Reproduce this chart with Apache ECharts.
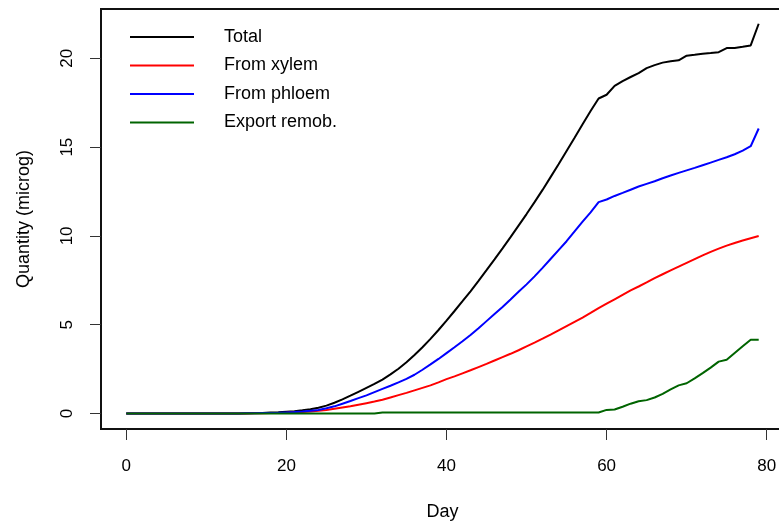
<!DOCTYPE html>
<html>
<head>
<meta charset="utf-8">
<script src="https://cdn.jsdelivr.net/npm/echarts@6/dist/echarts.min.js"></script>
<style>
html,body{margin:0;padding:0;background:#fff;}
#chart{width:779px;height:523px;}
</style>
</head>
<body>
<div id="chart"></div>
<script>
var days = [0,1,2,3,4,5,6,7,8,9,10,11,12,13,14,15,16,17,18,19,20,21,22,23,24,25,26,27,28,29,30,31,32,33,34,35,36,37,38,39,40,41,42,43,44,45,46,47,48,49,50,51,52,53,54,55,56,57,58,59,60,61,62,63,64,65,66,67,68,69,70,71,72,73,74,75,76,77,78,79];

var total = [0,0,0,0,0,0,0,0,0,0,0,0,0,0,0,
  0.01,0.02,0.03,0.05,0.07,0.1,0.13,0.18,0.24,0.32,0.44,0.6,0.79,1.0,1.22,
  1.44,1.66,1.91,2.2,2.52,2.88,3.29,3.73,4.2,4.7,5.23,5.77,6.32,6.88,7.47,
  8.07,8.68,9.3,9.93,10.58,11.23,11.9,12.59,13.31,14.04,14.78,15.53,16.29,17.03,17.74,
  17.95,18.45,18.72,18.95,19.17,19.45,19.62,19.76,19.84,19.89,20.15,20.2,20.26,20.3,20.35,
  20.58,20.58,20.65,20.73,21.95];

var xylem = [0,0,0,0,0,0,0,0,0,0,0,0,0,0,0,0,
  0.01,0.01,0.02,0.03,0.04,0.06,0.08,0.11,0.15,0.2,0.26,0.33,0.4,0.49,
  0.58,0.67,0.77,0.9,1.03,1.16,1.3,1.44,1.58,1.75,1.93,2.09,2.26,2.43,2.61,
  2.79,2.98,3.17,3.36,3.56,3.78,3.99,4.21,4.44,4.68,4.92,5.16,5.4,5.66,5.93,
  6.18,6.43,6.68,6.93,7.15,7.38,7.62,7.84,8.06,8.27,8.48,8.69,8.9,9.1,9.28,
  9.45,9.6,9.74,9.87,9.99];

var phloem = [0,0,0,0,0,0,0,0,0,0,0,0,0,0,0,
  0.01,0.01,0.02,0.03,0.04,0.06,0.08,0.11,0.15,0.2,0.29,0.4,0.55,0.7,0.86,
  1.02,1.2,1.38,1.56,1.75,1.95,2.18,2.46,2.76,3.07,3.4,3.73,4.07,4.42,4.8,
  5.2,5.6,6.0,6.42,6.85,7.27,7.72,8.2,8.7,9.2,9.7,10.25,10.8,11.32,11.9,
  12.05,12.25,12.42,12.6,12.78,12.93,13.08,13.25,13.4,13.55,13.69,13.83,13.98,14.13,14.28,
  14.43,14.6,14.8,15.05,16.05];

var exportRemob = [0,0,0,0,0,0,0,0,0,0,0,0,0,0,0,0,0,0,0,0,0,0,0,0,0,0,0,0,0,0,0,0,
  0.05,0.05,0.05,0.05,0.05,0.05,0.05,0.05,0.05,0.05,0.05,0.05,0.05,0.05,
  0.05,0.05,0.05,0.05,0.05,0.05,0.05,0.05,0.05,0.05,0.05,0.05,0.05,0.05,
  0.2,0.22,0.38,0.55,0.69,0.75,0.9,1.1,1.35,1.58,1.7,1.98,2.27,2.58,2.92,
  3.02,3.4,3.78,4.15,4.15];

var seriesNames = ['Total','From xylem','From phloem','Export remob.'];
var seriesColors = ['#000000','#ff0000','#0000ff','#006400'];
var seriesValues = [total, xylem, phloem, exportRemob];
var xTicks = [0,20,40,60,80];
var yTicks = [0,5,10,15,20];

var FONT = '"Liberation Sans", Arial, Helvetica, sans-serif';

function pairs(vals){ return days.map(function(d,i){ return [d, vals[i]]; }); }

var chart = echarts.init(document.getElementById('chart'), null, {renderer:'canvas'});
chart.setOption({
  animation:false,
  backgroundColor:'#ffffff',
  grid:{left:101, top:9, width:683, height:420, containLabel:false, outerBoundsMode:'none',
        show:true, borderColor:'#111', borderWidth:2, backgroundColor:'transparent'},
  legend:{
    orient:'vertical', left:130, top:28, padding:0, itemGap:10.5,
    itemWidth:64, itemHeight:2, icon:'rect',
    textStyle:{fontFamily:FONT, fontSize:18, color:'#000', padding:[0,0,0,25]},
    data:seriesNames
  },
  xAxis:{
    type:'value', min:-3.16, max:82.16,
    name:'Day', nameLocation:'middle', nameGap:74,
    nameTextStyle:{fontFamily:FONT, fontSize:18, color:'#000'},
    axisLine:{show:false, onZero:false},
    axisTick:{show:true, inside:false, length:11, lineStyle:{color:'#333', width:1}, customValues:xTicks},
    axisLabel:{fontFamily:FONT, fontSize:17, color:'#000', margin:29, customValues:xTicks},
    splitLine:{show:false}
  },
  yAxis:{
    type:'value', min:-0.876, max:22.78,
    name:'Quantity (microg)', nameLocation:'middle', nameGap:68,
    nameTextStyle:{fontFamily:FONT, fontSize:18, color:'#000'},
    axisLine:{show:false, onZero:false},
    axisTick:{show:true, inside:false, length:11, lineStyle:{color:'#333', width:1}, customValues:yTicks},
    axisLabel:{fontFamily:FONT, fontSize:17, color:'#000', margin:25, rotate:90, customValues:yTicks},
    splitLine:{show:false}
  },
  series: seriesNames.map(function(n,i){
    return {
      name:n, type:'line', data:pairs(seriesValues[i]),
      showSymbol:false, symbol:'none',
      color:seriesColors[i],
      lineStyle:{color:seriesColors[i], width:2},
      itemStyle:{color:seriesColors[i]}
    };
  })
});
</script>
</body>
</html>
